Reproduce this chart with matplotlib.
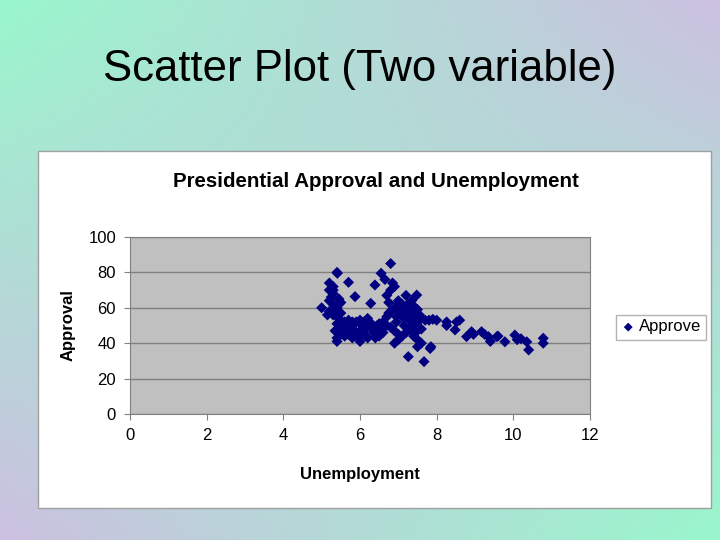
import numpy as np
import matplotlib.pyplot as plt
from matplotlib.patches import Rectangle

plt.rcParams['font.family'] = ['Liberation Sans', 'DejaVu Sans']

# Unemployment rate (%) and presidential approval (%)
unemployment = [
    5.2, 5.3, 5.2, 5.4, 5.3, 5.25, 5.2, 5.3, 5.4, 5.0, 5.2, 5.3, 5.4, 5.5, 5.4,
    5.5, 5.6, 5.5, 5.4, 5.4, 5.6, 5.3, 5.45, 5.5, 5.35, 5.15, 5.5, 5.6, 5.7, 5.8,
    5.9, 5.7, 5.8, 6.0, 6.1, 6.2, 6.0, 6.1, 6.2, 6.3, 6.4, 6.5, 5.9, 6.0, 6.2,
    6.5, 6.6, 6.7, 6.8, 6.6, 6.5, 6.4, 6.7, 6.8, 6.9, 7.0, 6.75, 6.7, 6.8, 6.9,
    6.85, 6.65, 6.55, 6.8, 5.7, 6.39, 5.87, 6.28, 5.41,
    7.0, 7.1, 7.2, 7.3, 7.4, 7.2, 7.3, 7.5, 7.4, 7.3, 7.2, 7.1, 7.0, 7.4, 7.5,
    7.6, 7.5, 7.26, 7.67, 7.48, 7.2, 7.35, 7.4, 7.5, 7.55, 7.6, 7.7, 7.8, 7.9,
    8.0, 7.85, 6.9, 7.0, 6.95, 7.1, 7.15, 7.6, 7.45,
    8.26, 8.26, 8.52, 8.6, 8.48, 8.78, 8.91, 8.96, 9.17, 9.35, 9.4, 9.57, 9.78,
    10.04, 10.1, 10.35, 10.4, 10.78, 10.78, 7.83, 9.25, 9.6, 10.2,
    5.45, 5.55, 5.65, 5.75, 5.85, 5.95, 5.6, 5.7, 5.8, 6.05, 6.15, 6.35, 6.45,
    6.55, 6.6, 6.9, 6.95, 7.05, 7.15, 7.25, 7.35, 7.45, 7.25, 7.35, 7.5, 7.3,
    5.35, 5.45, 6.3, 6.75,
]
approval = [
    74, 72, 70, 80, 68, 66, 64, 62, 60, 60, 58, 56, 55, 53, 51,
    49, 47, 45, 43, 41, 44, 70, 65, 63, 58, 56, 57, 52, 50, 48,
    46, 45, 43, 47, 45, 43, 41, 52, 50, 49, 48, 47, 52, 53, 54,
    51, 52, 50, 49, 46, 44, 43, 55, 58, 60, 62, 63, 67, 70, 72,
    74, 76, 79.5, 85, 74.4, 72.9, 66.3, 62.5, 79.5,
    64, 62, 60, 58, 56, 55, 53, 52, 50, 48, 46, 44, 42, 44, 42,
    40, 38, 32.4, 29.6, 67.2, 67, 64, 61, 59, 56, 54, 53, 53, 53.5,
    53, 38, 40, 45, 52, 55, 50, 48, 46,
    52, 50, 52, 53, 47.5, 43.7, 46.5, 45, 46.5, 43.7, 41, 43.7, 40.8,
    44.6, 42, 40.8, 36.2, 42.8, 40, 37, 45, 44, 42.5,
    50, 48, 46, 50, 47, 44, 51, 53, 52, 50, 48, 46, 50,
    48, 49, 47, 55, 58, 60, 57, 55, 58, 62, 50, 54, 60,
    47, 62, 51, 57,
]

x_ticks = [0, 2, 4, 6, 8, 10, 12]
y_ticks = [0, 20, 40, 60, 80, 100]

W, H = 720, 540
fig = plt.figure(figsize=(7.2, 5.4), dpi=100)

# slide background: mint at top-left / bottom-right, lavender at the other corners
mint = np.array([0x99, 0xf7, 0xcc]) / 255
lav = np.array([0xcc, 0xc0, 0xe0]) / 255
u, v = np.meshgrid(np.linspace(0, 1, 200), np.linspace(0, 1, 150))
t = u + v - 2 * u * v
grad = mint[None, None, :] * (1 - t[..., None]) + lav[None, None, :] * t[..., None]
bg = fig.add_axes([0, 0, 1, 1], zorder=-10)
bg.imshow(grad, aspect='auto', extent=[0, 1, 0, 1], origin='upper')
bg.set_xlim(0, 1)
bg.set_ylim(0, 1)
bg.set_axis_off()

# white chart area
bg.add_patch(Rectangle((38 / W, 1 - 508 / H), 673 / W, 357 / H,
                       facecolor='white', edgecolor='#a0a0a0', lw=1, zorder=2))

fig.text(0.5, 1 - 70 / H, 'Scatter Plot (Two variable)', ha='center', va='center',
         fontsize=31.5, color='black')

fig.text(376 / W, 1 - 181 / H, 'Presidential Approval and Unemployment',
         ha='center', va='center', fontsize=14.8, fontweight='bold')

ax = fig.add_axes([130 / W, 1 - 414 / H, 460 / W, 177 / H])
ax.set_facecolor('#c0c0c0')
ax.scatter(unemployment, approval, marker='D', s=32, color='#000080',
           edgecolors='none', zorder=3, label='Approve')
ax.set_xlim(0, 12)
ax.set_ylim(0, 100)
ax.set_xticks(x_ticks)
ax.set_yticks(y_ticks)
ax.tick_params(labelsize=12, length=4, color='#808080', pad=6)
ax.yaxis.grid(True, color='#808080', lw=1)
ax.set_axisbelow(True)
for s in ax.spines.values():
    s.set_color('#808080')

fig.text(68 / W, 1 - 325 / H, 'Approval', rotation=90, ha='center', va='center',
         fontsize=12, fontweight='bold')
fig.text(360 / W, 1 - 475 / H, 'Unemployment', ha='center', va='center',
         fontsize=12, fontweight='bold')

fig.legend(loc='center', bbox_to_anchor=(661 / W, 1 - 327 / H), fontsize=12,
           frameon=True, fancybox=False, edgecolor='#a0a0a0', borderpad=0.3,
           handletextpad=0.2, handlelength=0.9, scatterpoints=1,
           markerscale=0.8, borderaxespad=0)

fig.savefig('out.png', dpi=100)
